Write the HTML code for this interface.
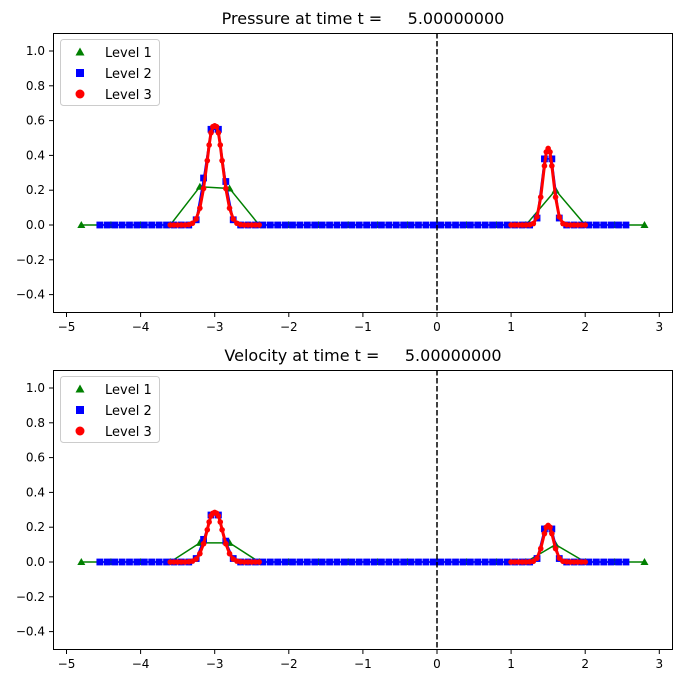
<!DOCTYPE html>
<html><head><meta charset="utf-8"><style>
body{margin:0;background:#fff}
svg{display:block;font-family:"DejaVu Sans","Liberation Sans",sans-serif}
</style></head><body>
<svg id="s" width="683" height="682"></svg>
<script>
const l1x=[-4.8,-4.4,-4.0,-3.6,-3.2,-2.8,-2.4,-2.0,-1.6,-1.2,-0.8,-0.4,0.0,0.4,0.8,1.2,1.6,2.0,2.4,2.8];
const l1pIdx=[4,5,16]; const l1p=[0.22,0.21,0.20]; const l1v=[0.11,0.11,0.10];
const l2start=-4.55, l2n=72;
const l2pX=[-3.25,-3.15,-3.05,-2.95,-2.85,-2.75,1.35,1.45,1.55,1.65];
const l2p=[0.03,0.27,0.55,0.55,0.25,0.03,0.04,0.38,0.38,0.04];
const l2v=[0.02,0.13,0.27,0.27,0.12,0.02,0.02,0.19,0.19,0.02];
const l3a=[-3.6,-3.55,-3.5,-3.45,-3.4,-3.35,-3.3,-3.25,-3.2,-3.15,-3.1,-3.075,-3.05,-3.025,-3.0,-2.975,-2.95,-2.925,-2.9,-2.85,-2.8,-2.75,-2.7,-2.65,-2.6,-2.55,-2.5,-2.45,-2.4];
const l3ap=[0,0,0,0,0,0.002,0.01,0.035,0.097,0.21,0.37,0.46,0.53,0.565,0.57,0.565,0.53,0.46,0.37,0.21,0.097,0.035,0.01,0.002,0,0,0,0,0];
const l3av=[0,0,0,0,0,0.001,0.005,0.017,0.048,0.105,0.185,0.23,0.265,0.28,0.285,0.28,0.265,0.23,0.185,0.105,0.048,0.017,0.005,0.001,0,0,0,0,0];
const l3b=[1.0,1.05,1.1,1.15,1.2,1.25,1.3,1.35,1.4,1.45,1.475,1.5,1.525,1.55,1.6,1.65,1.7,1.75,1.8,1.85,1.9,1.95,2.0];
const l3bp=[0,0,0,0,0,0.001,0.008,0.047,0.16,0.34,0.42,0.44,0.42,0.34,0.16,0.047,0.008,0.001,0,0,0,0,0];
const l3bv=[0,0,0,0,0,0.001,0.004,0.022,0.077,0.163,0.2,0.21,0.2,0.163,0.077,0.022,0.004,0.001,0,0,0,0,0];
const xTicks=[-5,-4,-3,-2,-1,0,1,2,3];
const yTicks=[-0.4,-0.2,0.0,0.2,0.4,0.6,0.8,1.0];
const NS="http://www.w3.org/2000/svg";
const svg=document.getElementById('s');
function mk(t,a,p){const e=document.createElementNS(NS,t);for(const k in a)e.setAttribute(k,a[k]);(p||svg).appendChild(e);return e;}
const X=v=>437+74.1*v;
function panel(top,title,which){
  const Y=v=>top+192-174*v;
  const g=mk('g',{});
  
  
  const t=mk('text',{x:363,y:top-9,'font-size':16,'text-anchor':'middle',style:'white-space:pre'},g);
  t.textContent=title;
  
  
  const l1y=l1x.map(()=>0);
  const vals=which==='pressure'?l1p:l1v;
  l1pIdx.forEach((i,k)=>l1y[i]=vals[k]);
  mk('polyline',{points:l1x.map((x,i)=>X(x)+','+Y(l1y[i])).join(' '),fill:'none',stroke:'green','stroke-width':1.5},g);
  l1x.forEach((x,i)=>{const cx=X(x),cy=Y(l1y[i]);const m=mk('polygon',{points:`${cx},${cy-4} ${cx-4},${cy+3} ${cx+4},${cy+3}`,fill:'green'},g);
    });
  const l2x=[],l2y=[];
  const pv=which==='pressure'?l2p:l2v;
  for(let i=0;i<l2n;i++){const x=+(l2start+0.1*i).toFixed(2);l2x.push(x);const k=l2pX.findIndex(a=>Math.abs(a-x)<1e-6);l2y.push(k>=0?pv[k]:0);}
  mk('polyline',{points:l2x.map((x,i)=>X(x)+','+Y(l2y[i])).join(' '),fill:'none',stroke:'blue','stroke-width':1.5},g);
  l2x.forEach((x,i)=>{const m=mk('rect',{x:X(x)-3.4,y:Y(l2y[i])-3.4,width:6.8,height:6.8,fill:'blue'},g);
    });
  [[l3a,which==='pressure'?l3ap:l3av],[l3b,which==='pressure'?l3bp:l3bv]].forEach(([xs,ys])=>{
    mk('polyline',{points:xs.map((x,i)=>X(x)+','+Y(ys[i])).join(' '),fill:'none',stroke:'red','stroke-width':3,'stroke-linejoin':'round'},g);
    xs.forEach((x,i)=>{const m=mk('circle',{cx:X(x),cy:Y(ys[i]),r:2.8,fill:'red'},g);
      });
  });
  mk('line',{x1:X(0),x2:X(0),y1:top,y2:top+280,stroke:'#000','stroke-width':1.5,'stroke-dasharray':'5.5,2.5'},g);
  mk('rect',{x:53.5,y:top+0.5,width:619,height:279,fill:'none',stroke:'#000','stroke-width':1},g);
  xTicks.forEach(v=>{mk('line',{x1:X(v),x2:X(v),y1:top+280,y2:top+284,stroke:'#000'},g);
    const tt=mk('text',{x:X(v),y:top+298,'font-size':12,'text-anchor':'middle'},g);tt.textContent=(v<0?'\u2212'+(-v):v);
    });
  yTicks.forEach(v=>{mk('line',{x1:49,x2:53,y1:Y(v),y2:Y(v),stroke:'#000'},g);
    const tt=mk('text',{x:45,y:Y(v)+4,'font-size':12,'text-anchor':'end'},g);tt.textContent=(v<0?'\u2212':'')+Math.abs(v).toFixed(1);
    });
  const lg=mk('g',{},g);
  
  
  mk('rect',{x:60.5,y:top+6.5,width:99,height:66,rx:3,fill:'#fff',stroke:'#ccc'},lg);
  const ly=[top+19,top+40,top+61];
  mk('polygon',{points:`80,${ly[0]-4.5} 75.5,${ly[0]+3.5} 84.5,${ly[0]+3.5}`,fill:'green'},lg);
  mk('rect',{x:76,y:ly[1]-4,width:8,height:8,fill:'blue'},lg);
  mk('circle',{cx:80,cy:ly[2],r:4.5,fill:'red'},lg);
  ['Level 1','Level 2','Level 3'].forEach((s,i)=>{const tt=mk('text',{x:105,y:ly[i]+5,'font-size':13},lg);tt.textContent=s;
    });
}
panel(33,'Pressure at time t =     5.00000000','pressure');
panel(370,'Velocity at time t =     5.00000000','velocity');
</script>
</body></html>
